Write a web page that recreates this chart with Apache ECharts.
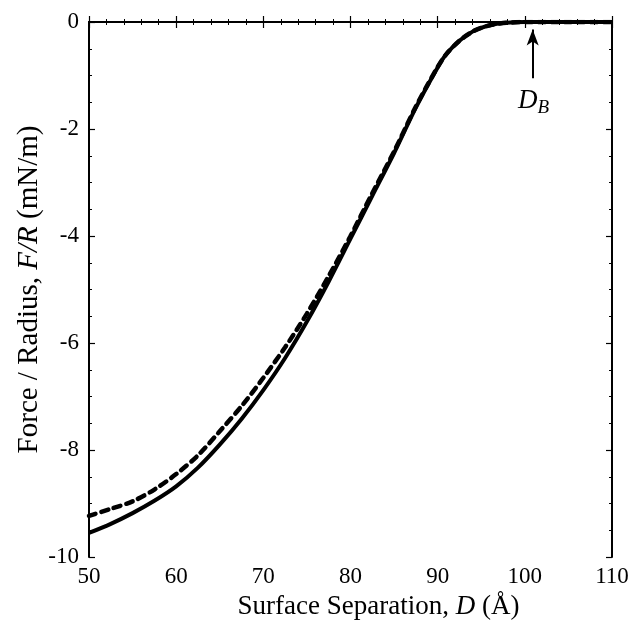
<!DOCTYPE html>
<html><head><meta charset="utf-8">
<script src="https://cdn.jsdelivr.net/npm/echarts@6/dist/echarts.min.js"></script>
<style>html,body{margin:0;padding:0;background:#fff}#c{width:631px;height:627px}</style>
</head><body><div id="c"></div>
<script>
const separation = [50,52.5,55,57.5,60,62.5,65,67.5,70,72.5,75,77.5,80,82.5,85,87.5,90,91,92.5,94,95,96,97.5,100,105,110];
const forceSolid = [-9.55,-9.38,-9.18,-8.95,-8.68,-8.33,-7.9,-7.42,-6.88,-6.28,-5.6,-4.85,-4.05,-3.25,-2.45,-1.6,-0.85,-0.6,-0.35,-0.18,-0.11,-0.06,-0.02,0,0,0];
const forceDashed = [-9.23,-9.1,-8.96,-8.74,-8.45,-8.1,-7.65,-7.18,-6.65,-6.08,-5.45,-4.75,-4.0,-3.2,-2.42,-1.58,-0.84,-0.6,-0.35,-0.18,-0.11,-0.06,-0.02,0,0,0];
const xTicks = [50,60,70,80,90,100,110];
const yTicks = [0,-2,-4,-6,-8,-10];
const arrowX = 100.9, arrowFrom = -1.05, arrowTo = -0.14;

const font = '"Liberation Serif","DejaVu Serif",serif';
const chart = echarts.init(document.getElementById('c'));
const axisCommon = {
  axisLine:{show:true,lineStyle:{color:'#000',width:2}},
  splitLine:{show:false}
};
chart.setOption({
  animation:false,
  grid:{left:89,right:19,top:22,bottom:70,containLabel:false,outerBoundsMode:'none'},
  xAxis:[
    Object.assign({type:'value',min:xTicks[0],max:xTicks[xTicks.length-1],interval:10,position:'bottom',
      axisTick:{show:true,inside:true,length:6,lineStyle:{color:'#000',width:1.2}},
      minorTick:{show:true,splitNumber:5,length:3,lineStyle:{color:'#000',width:1}},
      axisLabel:{color:'#000',fontFamily:font,fontSize:23,margin:8},
      name:'{n|Surface Separation, }{i|D}{n| (Å)}',nameLocation:'middle',nameGap:36,nameMoveOverlap:false,
      nameTextStyle:{padding:[0,0,0,56],rich:{n:{fontFamily:font,fontSize:27,color:'#000'},i:{fontFamily:font,fontSize:27,fontStyle:'italic',color:'#000'}}}
    },axisCommon),
    Object.assign({type:'value',min:50,max:110,interval:10,position:'top',
      axisTick:{show:true,inside:true,length:6,lineStyle:{color:'#000',width:1.2}},
      minorTick:{show:true,splitNumber:5,length:3,lineStyle:{color:'#000',width:1}},
      axisLabel:{show:false}},axisCommon)
  ],
  yAxis:[
    Object.assign({type:'value',min:yTicks[yTicks.length-1],max:yTicks[0],interval:2,position:'left',
      axisTick:{show:true,inside:true,length:6,lineStyle:{color:'#000',width:1.2}},
      minorTick:{show:true,splitNumber:4,length:3,lineStyle:{color:'#000',width:1}},
      axisLabel:{color:'#000',fontFamily:font,fontSize:23,margin:10},
      name:'{n|Force / Radius, }{i|F/R}{n| (mN/m)}',nameLocation:'middle',nameGap:45,nameRotate:90,nameMoveOverlap:false,
      nameTextStyle:{rich:{n:{fontFamily:font,fontSize:29,color:'#000'},i:{fontFamily:font,fontSize:29,fontStyle:'italic',color:'#000'}}}
    },axisCommon),
    Object.assign({type:'value',min:-10,max:0,interval:2,position:'right',
      axisTick:{show:true,inside:true,length:6,lineStyle:{color:'#000',width:1.2}},
      minorTick:{show:true,splitNumber:4,length:3,lineStyle:{color:'#000',width:1}},
      axisLabel:{show:false}},axisCommon)
  ],
  series:[
    {type:'line',data:separation.map((x,i)=>[x,forceDashed[i]]),smooth:0.3,showSymbol:false,
      lineStyle:{color:'#000',width:4.5,type:[7,6],cap:'round'},z:2},
    {type:'line',data:separation.map((x,i)=>[x,forceSolid[i]]),smooth:0.3,showSymbol:false,
      lineStyle:{color:'#000',width:4},z:3,
      markLine:{silent:true,symbol:['none','arrow'],symbolSize:[9,16],animation:false,
        lineStyle:{color:'#000',width:2,type:'solid'},label:{show:false},
        data:[[{coord:[arrowX,arrowFrom]},{coord:[arrowX,arrowTo]}]]},
      markPoint:{silent:true,symbol:'circle',symbolSize:0,
        data:[{coord:[arrowX+0.1,-1.48]}],
        label:{show:true,position:'inside',formatter:'{d|D}{b|B}',
          rich:{d:{fontFamily:font,fontSize:27,fontStyle:'italic',color:'#000'},
                b:{fontFamily:font,fontSize:19,fontStyle:'italic',color:'#000',padding:[14,0,0,0]}}}}
    }
  ]
});
</script></body></html>
